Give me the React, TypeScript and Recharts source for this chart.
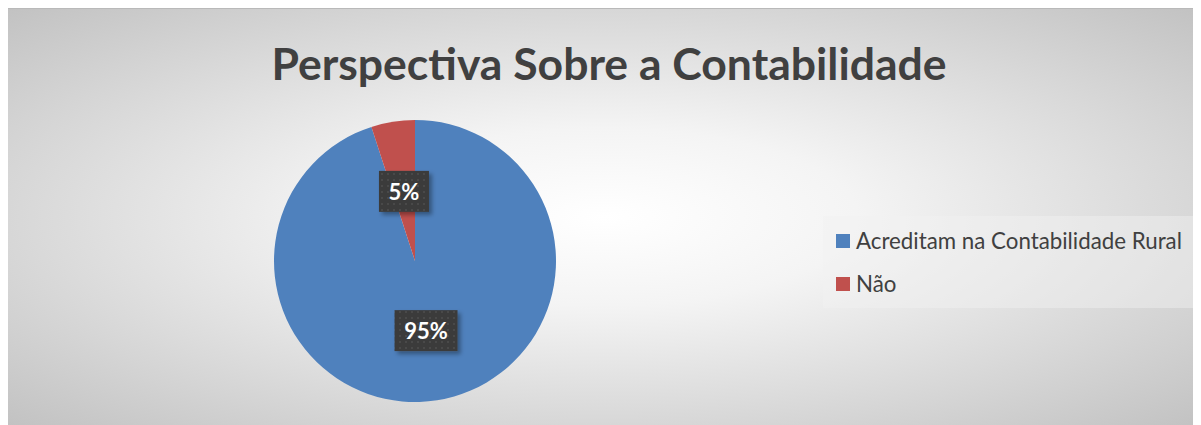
import React from "react";
import { PieChart, Pie, Cell, Legend } from "recharts";

const categories = ["Acreditam na Contabilidade Rural", "Não"];
const values = [95, 5];
const colors = ["#4f81bd", "#c0504d"];
const title = "Perspectiva Sobre a Contabilidade";

const data = categories.map((name, i) => ({ name, value: values[i] }));

const RAD = Math.PI / 180;

const renderLabel = (props: any) => {
  const { cx, cy, midAngle, outerRadius, percent } = props;
  const r = outerRadius * 0.5;
  const x = cx + r * Math.cos(-midAngle * RAD);
  const y = cy + r * Math.sin(-midAngle * RAD);
  const text = `${Math.round(percent * 100)}%`;
  const w = 24 + 13 * text.length;
  const h = 41;
  return (
    <g>
      <rect
        x={x - w / 2}
        y={y - h / 2}
        width={w}
        height={h}
        fill="url(#dots)"
        filter="url(#lblShadow)"
      />
      <text
        x={x}
        y={y}
        textAnchor="middle"
        dominantBaseline="central"
        fill="#ffffff"
        fontFamily="Lato, sans-serif"
        fontWeight={700}
        fontSize={22}
      >
        {text}
      </text>
    </g>
  );
};

const LegendBox = () => (
  <div
    style={{
      width: 372,
      height: 92,
      background: "rgba(242,242,242,0.45)",
      boxSizing: "border-box",
      padding: "3px 0 0 13px",
      fontFamily: "Lato, sans-serif",
      fontSize: 22.3,
      color: "#404040",
    }}
  >
    {categories.map((c, i) => (
      <div
        key={c}
        style={{ display: "flex", alignItems: "center", height: 43 }}
      >
        <span
          style={{
            width: 14,
            height: 14,
            background: colors[i],
            marginRight: 6,
            display: "inline-block",
          }}
        />
        <span>{c}</span>
      </div>
    ))}
  </div>
);

export default function App() {
  return (
    <div
      style={{
        position: "relative",
        width: 1194,
        height: 417,
        marginLeft: -1,
        borderTop: "1px solid #b9b9b9",
        boxSizing: "border-box",
        background:
          "radial-gradient(ellipse farthest-corner at 50% 50%, #ffffff 0%, #f4f4f4 30%, #c2c2c2 100%)",
      }}
    >
      <div
        style={{
          position: "absolute",
          top: 27,
          left: 5,
          width: 1194,
          textAlign: "center",
          fontFamily: "Lato, sans-serif",
          fontWeight: 700,
          fontSize: 44.5,
          color: "#404040",
        }}
      >
        {title}
      </div>
      <PieChart
        width={1194}
        height={416}
        margin={{ top: 0, right: 0, bottom: 0, left: 0 }}
        style={{ position: "absolute", top: 0, left: 0 }}
      >
        <defs>
          <pattern id="dots" width="6" height="6" patternUnits="userSpaceOnUse">
            <rect width="6" height="6" fill="#3b3b3b" />
            <rect x="2" y="2" width="2" height="2" fill="#4a4a4a" />
          </pattern>
          <filter id="lblShadow" x="-20%" y="-20%" width="150%" height="150%">
            <feDropShadow dx="3" dy="3" stdDeviation="2" floodColor="#000" floodOpacity="0.35" />
          </filter>
        </defs>
        <Pie
          data={data}
          dataKey="value"
          nameKey="name"
          cx={408}
          cy={252}
          outerRadius={141}
          startAngle={90}
          endAngle={-270}
          stroke="none"
          label={renderLabel}
          labelLine={false}
          isAnimationActive={false}
        >
          {data.map((d, i) => (
            <Cell key={d.name} fill={colors[i]} />
          ))}
        </Pie>
        <Legend
          content={() => <LegendBox />}
          wrapperStyle={{ position: "absolute", left: 816, top: 207, width: 372 }}
        />
      </PieChart>
    </div>
  );
}
